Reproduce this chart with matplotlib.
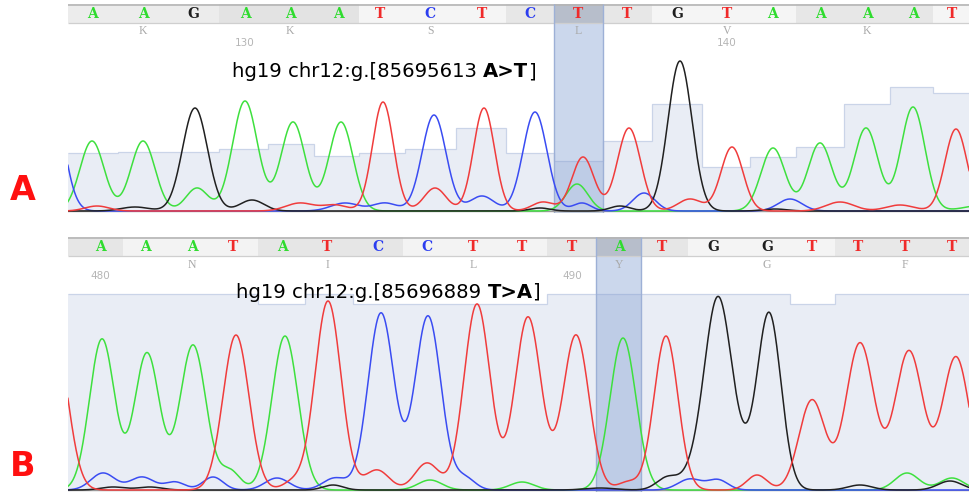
import numpy as np
import matplotlib.pyplot as plt

W, H = 969, 493
X0, X1 = 68, 969

base_colors = {"A": "#2fdc2f", "C": "#2b3df0", "G": "#1e1e1e", "T": "#f02a2a"}
trace_colors = {"A": "#3ee03e", "C": "#3a4cf2", "G": "#202020", "T": "#f03c3c"}

# ---------------- panel A ----------------
a_bases = "AAGAAATCTCTTGTAAAAT"
a_pos = [92, 143, 193, 245, 290, 338, 380, 430, 482, 530, 578, 627, 677, 727, 772, 820, 867, 913, 952]
a_qual = [58, 59, 59, 62, 67, 55, 58, 62, 83, 58, 50, 70, 107, 44, 54, 64, 107, 124, 118]
a_aa = ["K", "K", "S", "L", "V", "K"]
a_numbers = {3: "130", 13: "140"}
a_frame = 0
a_mark = 10
a_shades = ["#ececec", "#e3e3e3", "#f5f5f5", "#e7e7e7", "#f5f5f5", "#e7e7e7", "#f5f5f5"]
# peaks: (scan position, height, width)
a_peaks_A = [(92, 70, 12), (143, 70, 12), (197, 23, 11), (245, 110, 12.5), (293, 89, 12), (341, 89, 12),
             (577, 27, 11), (773, 63, 12), (820, 68, 12), (866, 83, 12), (913, 104, 12), (985, 6, 20)]
a_peaks_C = [(52, 110, 12), (345, 8, 14), (385, 8, 12), (434, 96, 12), (482, 15, 12), (535, 99, 12),
             (582, 8, 9), (644, 18, 11), (790, 12, 12)]
a_peaks_G = [(135, 4, 14), (195, 103, 12.5), (252, 11, 12), (540, 3, 10), (620, 5, 10), (680, 150, 12), (775, 2, 12)]
a_peaks_T = [(97, 5, 12), (300, 8, 14), (335, 6, 12), (383, 109, 10.5), (435, 23, 11), (484, 103, 10.5),
             (543, 9, 11), (583, 54, 11), (629, 83, 11.5), (690, 12, 12), (732, 64, 11), (840, 9, 14),
             (900, 6, 14), (956, 82, 11)]
a_note = ("hg19 chr12:g.[85695613 ", "A>T", "]")

# ---------------- panel B ----------------
b_bases = "AAATATCCTTTATGGTTTT"
b_pos = [100, 145, 192, 233, 282, 327, 378, 427, 473, 522, 572, 619, 662, 713, 767, 812, 858, 905, 952]
b_qual = [196, 196, 196, 196, 186, 196, 186, 186, 186, 186, 196, 196, 196, 196, 196, 186, 196, 196, 196]
b_aa = ["N", "I", "L", "Y", "G", "F"]
b_numbers = {0: "480", 10: "490"}
b_frame = 1
b_mark = 11
b_shades = ["#e6e6e6", "#f3f3f3", "#e6e6e6", "#f3f3f3", "#e6e6e6", "#f4f4f4", "#e8e8e8"]
b_peaks_A = [(102, 151, 12.5), (147, 137, 12.5), (193, 145, 13), (230, 19, 10), (285, 154, 13),
             (430, 10, 12), (522, 8, 12), (623, 152, 13), (907, 17, 12), (952, 12, 12)]
b_peaks_C = [(103, 17, 12), (142, 13, 12), (175, 8, 10), (213, 13, 10), (277, 12, 12), (335, 12, 12),
             (381, 177, 13), (428, 174, 13), (465, 12, 10), (690, 11, 12), (718, 10, 10)]
b_peaks_G = [(113, 3, 12), (150, 3, 12), (333, 5, 10), (600, 2, 15), (668, 13, 11), (690, 8, 10),
             (718, 193, 14), (744, 13, 10), (769, 177, 12), (860, 5, 12), (950, 9, 12)]
b_peaks_T = [(55, 150, 13), (236, 155, 13), (293, 8, 10), (328, 189, 13), (377, 20, 12), (427, 27, 12),
             (477, 186, 13), (528, 173, 13), (576, 155, 13), (628, 8, 10), (666, 154, 12), (757, 15, 10),
             (812, 90, 13), (860, 147, 14), (909, 139, 14), (956, 133, 13.5)]
b_note = ("hg19 chr12:g.[85696889 ", "T>A", "]")

fig = plt.figure(figsize=(W / 100, H / 100), dpi=100)
fig.patch.set_facecolor("white")


def draw_panel(top, base, bases, pos, qual, aa, frame, numbers, mark, peaks, shades, note, note_x, note_px, tag, tag_y):
    ax = fig.add_axes([X0 / W, 1 - (base + 2) / H, (X1 - X0) / W, (base + 2 - top) / H])
    ytop = base - top
    ax.set_xlim(X0, X1)
    ax.set_ylim(-2, ytop)
    ax.axis("off")

    pos = np.array(pos, dtype=float)
    edges = np.concatenate([[X0], (pos[:-1] + pos[1:]) / 2, [X1]])

    # quality bars
    ax.stairs(qual, edges, baseline=0, fill=True, color="#e9edf5", zorder=1)
    ax.stairs(qual, edges, baseline=None, color="#cad4e8", lw=0.9, zorder=1.1)

    # base call strip
    shift = (3 - frame) % 3
    groups = [(i + shift) // 3 for i in range(len(bases))]
    cols = [shades[g] for g in groups]
    cols[mark] = "#b7becb"
    ax.bar(edges[:-1], 19, width=np.diff(edges), bottom=ytop - 19, align="edge", color=cols, zorder=2)
    ax.hlines([ytop - 0.5], X0, X1, color="#b5b5b5", lw=1.2, zorder=2.2)
    ax.hlines([ytop - 19], X0, X1, color="#cfcfcf", lw=0.9, zorder=2.2)
    for x, b in zip(pos, bases):
        ax.text(x, ytop - 9.5, b, color=base_colors[b], ha="center", va="center",
                fontsize=10, fontweight="bold", family="DejaVu Serif", zorder=5)

    # amino acids and numbering
    mids = [i for i in range(len(bases)) if (i + shift) % 3 == 1 and i + 1 < len(bases)]
    for i, a in zip(mids, aa):
        ax.text(pos[i], ytop - 27.5, a, color="#a9a9a9", ha="center", va="center",
                fontsize=8.5, family="Liberation Serif", zorder=5)
    for i, n in numbers.items():
        ax.text(pos[i], ytop - 39, n, color="#b5b5b5", ha="center", va="center",
                fontsize=7.5, family="DejaVu Sans", zorder=5)

    # highlighted base
    l, r = edges[mark], edges[mark + 1]
    ax.fill_between([l, r], -2, ytop - 19, color="#7f9bd0", alpha=0.4, lw=0, zorder=1.5)
    ax.vlines([l, r], -2, ytop, color="#9db0d6", lw=1.0, zorder=2.3)

    # traces
    xs = np.linspace(X0 - 40, X1 + 40, 3000)
    for ch in ["A", "C", "G", "T"]:
        y = np.zeros_like(xs)
        for p, h, w in peaks[ch]:
            y += h * np.exp(-0.5 * ((xs - p) / w) ** 2)
        ax.plot(xs, y, color=trace_colors[ch], lw=1.1, zorder=3)
    ax.axhline(0, color="#9a9a9a", lw=1.0, zorder=2.8)

    # annotation text
    t1 = ax.text(note_x, base - note_px, note[0], fontsize=14.1, family="DejaVu Sans",
                 va="baseline", ha="left", zorder=6)
    t2 = ax.annotate(note[1], xy=(1, 0), xycoords=t1, va="bottom", ha="left",
                     fontsize=14.1, fontweight="heavy", family="DejaVu Sans", zorder=6)
    ax.annotate(note[2], xy=(1, 0), xycoords=t2, va="bottom", ha="left",
                fontsize=14.1, family="DejaVu Sans", zorder=6)

    fig.text(23 / W, 1 - tag_y / H, tag, color="#ff1010", fontsize=24, fontweight="heavy",
             family="DejaVu Sans", ha="center", va="center")


draw_panel(4, 211, a_bases, a_pos, a_qual, a_aa, a_frame, a_numbers, a_mark,
           {"A": a_peaks_A, "C": a_peaks_C, "G": a_peaks_G, "T": a_peaks_T},
           a_shades, a_note, 232, 77, "A", 191)
draw_panel(237, 490, b_bases, b_pos, b_qual, b_aa, b_frame, b_numbers, b_mark,
           {"A": b_peaks_A, "C": b_peaks_C, "G": b_peaks_G, "T": b_peaks_T},
           b_shades, b_note, 236, 298, "B", 466)

fig.savefig("out.png", dpi=100)
